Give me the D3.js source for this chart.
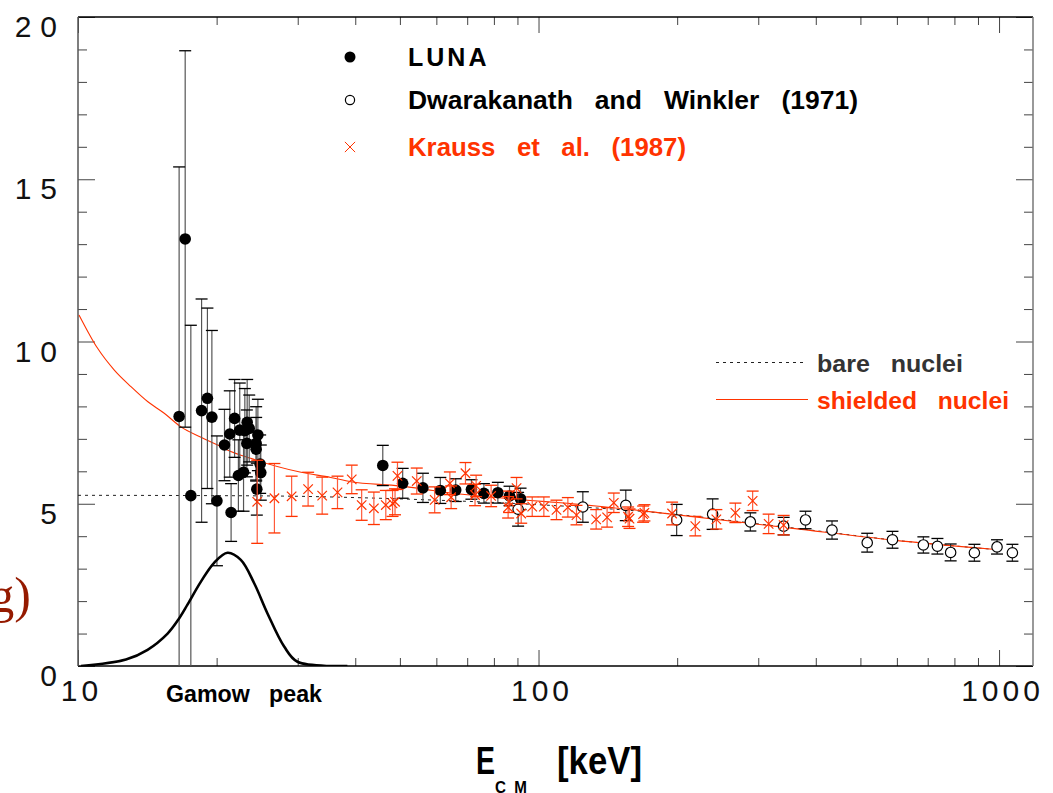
<!DOCTYPE html>
<html>
<head>
<meta charset="utf-8">
<script src="https://cdn.jsdelivr.net/npm/d3@7"></script>
<style>
  html, body { margin: 0; padding: 0; background: #ffffff; }
  svg { display: block; }
</style>
</head>
<body>
<svg id="chart" width="1053" height="793"></svg>
<script>
// ---- LUNA measurements: centre-of-mass energy (keV), S-factor, error ----
const lunaE = [16.58, 17.09, 17.58, 18.55, 19.1, 19.53, 20.03, 20.8, 21.36, 21.5,
               21.88, 22.3, 22.45, 22.88, 23.03, 23.26, 23.3, 23.54, 24.37, 24.37,
               24.58, 24.86, 24.94, 24.45,
               45.9, 50.7, 56.1, 61.2, 66.1, 71.5, 76.1, 81.6, 86.5, 91.4];
const lunaS = [7.69, 13.16, 5.25, 7.87, 8.25, 7.67, 5.09, 6.81, 7.15, 4.73,
               7.63, 5.87, 7.27, 5.97, 7.25, 6.86, 7.51, 7.32, 6.86, 6.68,
               7.12, 6.22, 5.96, 5.45,
               6.18, 5.63, 5.49, 5.41, 5.42, 5.44, 5.32, 5.34, 5.24, 5.15];
const lunaErr = [7.69, 5.8, 5.25, 3.44, 2.78, 2.67, 2.0, 1.1, 1.33, 0.89,
                 1.2, 1.1, 1.45, 1.2, 1.3, 1.03, 1.32, 1.03, 1.13, 0.98,
                 1.1, 0.9, 0.85, 0.8,
                 0.62, 0.46, 0.45, 0.4, 0.35, 0.3, 0.3, 0.32, 0.3, 0.33];

// ---- Dwarakanath and Winkler (1971) ----
const dwE = [90.3, 124.8, 154.7, 199.5, 238.8, 288.4, 340.6, 380, 433.8, 517.3,
             586.9, 685, 734.8, 785, 884, 990, 1069];
const dwS = [4.83, 4.9, 4.95, 4.5, 4.68, 4.44, 4.31, 4.5, 4.19, 3.8,
             3.89, 3.73, 3.69, 3.5, 3.49, 3.67, 3.49];
const dwErr = [0.52, 0.47, 0.47, 0.48, 0.47, 0.28, 0.27, 0.27, 0.28, 0.29,
               0.26, 0.25, 0.24, 0.26, 0.26, 0.22, 0.26];

// ---- Krauss et al. (1987) ----
const krE = [24.5, 26.7, 29.1, 31.6, 33.9, 36.6, 39.3, 41.3, 43.9, 46.6,
             48.2, 48.8, 49.4, 54.4, 59.5, 64.2, 64.6, 69.4, 72.8, 73.2,
             78.9, 85.9, 86.3, 89.6, 91.7, 96.9, 102.7, 109.4, 115.8, 120.9,
             133.4, 140.9, 145.7, 156.5, 157.6, 168.7, 169.8, 195, 219, 243.3,
             267.6, 291.7, 316, 340.6];
const krS = [5.06, 5.17, 5.23, 5.45, 5.25, 5.35, 5.75, 4.96, 4.86, 4.96,
             5.01, 5.06, 5.86, 5.7, 5.12, 5.63, 5.2, 5.94, 5.27, 5.55,
             5.24, 4.89, 5.06, 5.48, 4.7, 4.91, 4.91, 4.81, 4.89, 4.65,
             4.52, 4.58, 5.03, 4.6, 4.54, 4.68, 4.72, 4.7, 4.31, 4.52,
             4.72, 5.09, 4.38, 4.34];
const krErr = [1.28, 1.07, 0.62, 0.52, 0.57, 0.5, 0.44, 0.47, 0.5, 0.45,
               0.4, 0.4, 0.42, 0.4, 0.4, 0.35, 0.35, 0.33, 0.33, 0.33,
               0.33, 0.33, 0.33, 0.33, 0.3, 0.3, 0.3, 0.3, 0.3, 0.3,
               0.3, 0.3, 0.3, 0.3, 0.3, 0.25, 0.25, 0.35, 0.3, 0.3,
               0.3, 0.3, 0.3, 0.3];

// ---- Model curves ----
const shieldE = [10.05, 11.03, 11.99, 13.03, 14.16, 15.39, 16.73, 18.5, 20.1, 21.1,
                 23.7, 30.5, 35.4, 39.1, 50, 61.3, 96.1, 111.6, 183.9, 357, 589, 970];
const shieldS = [10.82, 9.79, 9.12, 8.61, 8.15, 7.79, 7.37, 7.05, 6.81, 6.66,
                 6.4, 5.97, 5.81, 5.68, 5.55, 5.37, 5.1, 5.03, 4.72, 4.24, 3.88, 3.6];
const bareE = [10, 20, 30, 40, 50, 60, 80, 100, 150, 200, 300, 400, 500, 600, 800, 1000];
const bareS = [5.26, 5.25, 5.23, 5.19, 5.15, 5.11, 5.04, 4.97, 4.82, 4.67, 4.38, 4.17, 4.0, 3.87, 3.7, 3.58];

// ---- Gamow peak profile (arbitrary units on the S scale) ----
const gamowE = [10.15, 12.71, 14.16, 15.65, 16.46, 17.3, 18.49, 19.75, 21.12, 22.57,
                24.13, 25.79, 28.03, 29.96, 38.46];
const gamowV = [0, 0.2, 0.5, 1.0, 1.4, 1.9, 2.6, 3.18, 3.49, 3.27,
                2.55, 1.62, 0.6, 0.13, 0];

// ---- Axis ticks ----
const xMajorTicks = [10, 100, 1000];
const xMinorTicks = [20, 30, 40, 50, 60, 70, 80, 90, 200, 300, 400, 500, 600, 700, 800, 900];
const yMajorTicks = [0, 5, 10, 15, 20];
const yMinorTicks = [1, 2, 3, 4, 6, 7, 8, 9, 11, 12, 13, 14, 16, 17, 18, 19];

const RED = "#ff3300";
const SANS = "'Liberation Sans', Arial, Helvetica, sans-serif";
const NARROW = "'Liberation Sans Narrow', 'Arial Narrow', 'Liberation Sans', sans-serif";

const svg = d3.select("#chart");
const pLeft = 78, pRight = 1033, pTop = 17, pBottom = 666;

const x = d3.scaleLog().domain([10, 1185]).range([pLeft, pRight]);
const y = d3.scaleLinear().domain([0, 20]).range([pBottom, pTop]);

svg.append("defs").append("clipPath").attr("id", "plot")
  .append("rect").attr("x", pLeft).attr("y", pTop)
  .attr("width", pRight - pLeft).attr("height", pBottom - pTop);

// ---- ticks on all four sides ----
function tickStyle(g) {
  g.select(".domain").remove();
  g.selectAll(".tick line").attr("stroke", "#444").attr("stroke-width", 1);
}
// widen the gaps between digits without adding trailing space
function spreadDigits(sel, gap) {
  sel.each(function () {
    const n = this.textContent.length;
    if (n > 1) {
      const w = this.getComputedTextLength();
      d3.select(this).attr("textLength", w + (n - 1) * gap).attr("lengthAdjust", "spacing");
    }
  });
}

svg.append("g").attr("transform", `translate(0,${pBottom})`)
  .call(d3.axisBottom(x).tickValues(xMinorTicks).tickSize(-8).tickFormat(""))
  .call(tickStyle);
svg.append("g").attr("transform", `translate(0,${pTop})`)
  .call(d3.axisTop(x).tickValues(xMinorTicks).tickSize(-8).tickFormat(""))
  .call(tickStyle);
svg.append("g").attr("transform", `translate(0,${pTop})`)
  .call(d3.axisTop(x).tickValues(xMajorTicks).tickSize(-16).tickFormat(""))
  .call(tickStyle);
const xMajorAxis = svg.append("g").attr("transform", `translate(0,${pBottom})`)
  .call(d3.axisBottom(x).tickValues(xMajorTicks).tickSize(-16).tickPadding(15)
        .tickFormat(d3.format("d")))
  .call(tickStyle);
xMajorAxis.selectAll("text")
  .attr("font-family", SANS).attr("font-size", 30).attr("fill", "#111")
  .attr("dy", "0.68em").attr("dx", "1px")
  .call(spreadDigits, 4);

svg.append("g").attr("transform", `translate(${pLeft},0)`)
  .call(d3.axisLeft(y).tickValues(yMinorTicks).tickSize(-9).tickFormat(""))
  .call(tickStyle);
const yMajorAxis = svg.append("g").attr("transform", `translate(${pLeft},0)`)
  .call(d3.axisLeft(y).tickValues(yMajorTicks).tickSize(-17).tickPadding(21)
        .tickFormat(d3.format("d")))
  .call(tickStyle);
yMajorAxis.selectAll("text")
  .attr("font-family", SANS).attr("font-size", 30).attr("fill", "#111")
  .attr("dy", "0.65em")
  .call(spreadDigits, 9);
svg.append("g").attr("transform", `translate(${pRight},0)`)
  .call(d3.axisRight(y).tickValues(yMinorTicks).tickSize(-9).tickFormat(""))
  .call(tickStyle);
svg.append("g").attr("transform", `translate(${pRight},0)`)
  .call(d3.axisRight(y).tickValues(yMajorTicks).tickSize(-17).tickFormat(""))
  .call(tickStyle);

// ---- frame ----
svg.append("line").attr("x1", pLeft).attr("x2", pRight).attr("y1", pTop).attr("y2", pTop)
  .attr("stroke", "#000").attr("stroke-width", 1.5);
svg.append("line").attr("x1", pLeft).attr("x2", pRight).attr("y1", pBottom).attr("y2", pBottom)
  .attr("stroke", "#000").attr("stroke-width", 1.5);
svg.append("line").attr("x1", pLeft).attr("x2", pLeft).attr("y1", pTop).attr("y2", pBottom)
  .attr("stroke", "#555").attr("stroke-width", 1.5);
svg.append("line").attr("x1", pRight).attr("x2", pRight).attr("y1", pTop).attr("y2", pBottom)
  .attr("stroke", "#777").attr("stroke-width", 1.5);

const plot = svg.append("g").attr("clip-path", "url(#plot)");

// ---- model curves ----
const curveLine = d3.line().x(d => x(d[0])).y(d => y(d[1])).curve(d3.curveMonotoneX);
plot.append("path").datum(d3.zip(bareE, bareS))
  .attr("d", curveLine).attr("fill", "none")
  .attr("stroke", "#222").attr("stroke-width", 1).attr("stroke-dasharray", "3,4");
plot.append("path").datum(d3.zip(shieldE, shieldS))
  .attr("d", curveLine).attr("fill", "none")
  .attr("stroke", RED).attr("stroke-width", 1.1);

// ---- error bars ----
function errorBars(g, E, S, Err, lineColor, capColor, capW) {
  const rows = d3.zip(E, S, Err);
  g.selectAll(null).data(rows).join("line")
    .attr("x1", d => x(d[0])).attr("x2", d => x(d[0]))
    .attr("y1", d => y(Math.min(20, d[1] + d[2])))
    .attr("y2", d => y(Math.max(0, d[1] - d[2])))
    .attr("stroke", lineColor).attr("stroke-width", 1.2);
  const caps = [];
  rows.forEach(d => {
    if (d[1] + d[2] < 20) caps.push([d[0], d[1] + d[2]]);
    if (d[1] - d[2] > 0.05) caps.push([d[0], d[1] - d[2]]);
  });
  g.selectAll(null).data(caps).join("line")
    .attr("x1", d => x(d[0]) - capW / 2).attr("x2", d => x(d[0]) + capW / 2)
    .attr("y1", d => y(d[1])).attr("y2", d => y(d[1]))
    .attr("stroke", capColor).attr("stroke-width", 1.3);
}

// LUNA
const gL = plot.append("g");
errorBars(gL, lunaE, lunaS, lunaErr, "#555", "#000", 12);
gL.selectAll(null).data(d3.zip(lunaE, lunaS)).join("circle")
  .attr("cx", d => x(d[0])).attr("cy", d => y(d[1])).attr("r", 5.8)
  .attr("fill", "#000");

// Dwarakanath and Winkler
const gD = plot.append("g");
errorBars(gD, dwE, dwS, dwErr, "#333", "#000", 12);
gD.selectAll(null).data(d3.zip(dwE, dwS)).join("circle")
  .attr("cx", d => x(d[0])).attr("cy", d => y(d[1])).attr("r", 5.2)
  .attr("fill", "#fff").attr("stroke", "#000").attr("stroke-width", 1.2);

// Krauss et al.
const gK = plot.append("g");
errorBars(gK, krE, krS, krErr, "#ff5a3a", RED, 12);
const cross = d3.symbol().type(d3.symbolX).size(60);
gK.selectAll(null).data(d3.zip(krE, krS)).join("path")
  .attr("transform", d => `translate(${x(d[0])},${y(d[1])})`)
  .attr("d", cross).attr("fill", "none").attr("stroke", RED).attr("stroke-width", 1.2);

// ---- Gamow peak ----
plot.append("path").datum(d3.zip(gamowE, gamowV))
  .attr("d", d3.line().x(d => x(d[0])).y(d => y(d[1])).curve(d3.curveCatmullRom))
  .attr("fill", "none").attr("stroke", "#000").attr("stroke-width", 2.6);

// ---- labels ----
function label(txt, xPos, yPos, size, color, len, spacing) {
  const t = svg.append("text").attr("x", xPos).attr("y", yPos)
    .attr("font-family", NARROW).attr("font-weight", "bold")
    .attr("font-size", size).attr("fill", color)
    .style("white-space", "pre").text(txt);
  if (spacing) t.attr("letter-spacing", spacing);
  if (len) t.attr("textLength", len).attr("lengthAdjust", "spacingAndGlyphs");
  return t;
}

label("Gamow   peak", 166, 702, 24, "#000", 156);

// axis title
label("E", 476, 774, 38, "#000", 19);
label("C  M", 495, 793, 16, "#000", 32);
label("[keV]", 557, 774, 38, "#000", 85);

// fragment of the vertical title at the left margin
svg.append("text").attr("x", 31).attr("y", 612).attr("text-anchor", "end")
  .attr("font-family", "'Liberation Serif', 'DejaVu Serif', serif")
  .attr("font-size", 50).attr("fill", "#951a00").text("g)");

// ---- legend: data sets ----
svg.append("circle").attr("cx", 350).attr("cy", 57).attr("r", 5.5).attr("fill", "#000");
label("LUNA", 408, 66, 25, "#000", null, "3px");
svg.append("circle").attr("cx", 350).attr("cy", 100).attr("r", 4.6)
  .attr("fill", "#fff").attr("stroke", "#000").attr("stroke-width", 1.2);
label("Dwarakanath   and   Winkler   (1971)", 408, 109, 25, "#000", 450);
svg.append("path").attr("transform", "translate(350,147)")
  .attr("d", d3.symbol().type(d3.symbolX).size(70)).attr("fill", "none")
  .attr("stroke", RED).attr("stroke-width", 1);
label("Krauss   et   al.   (1987)", 408, 156, 25, RED, 278);

// ---- legend: models ----
svg.append("line").attr("x1", 716).attr("x2", 805).attr("y1", 362.5).attr("y2", 362.5)
  .attr("stroke", "#222").attr("stroke-width", 1).attr("stroke-dasharray", "3,4");
label("bare   nuclei", 817, 372, 24, "#333", 146);
svg.append("line").attr("x1", 716).attr("x2", 808).attr("y1", 399.5).attr("y2", 399.5)
  .attr("stroke", RED).attr("stroke-width", 1.1);
label("shielded   nuclei", 817, 409, 24, RED, 192);
</script>
</body>
</html>
